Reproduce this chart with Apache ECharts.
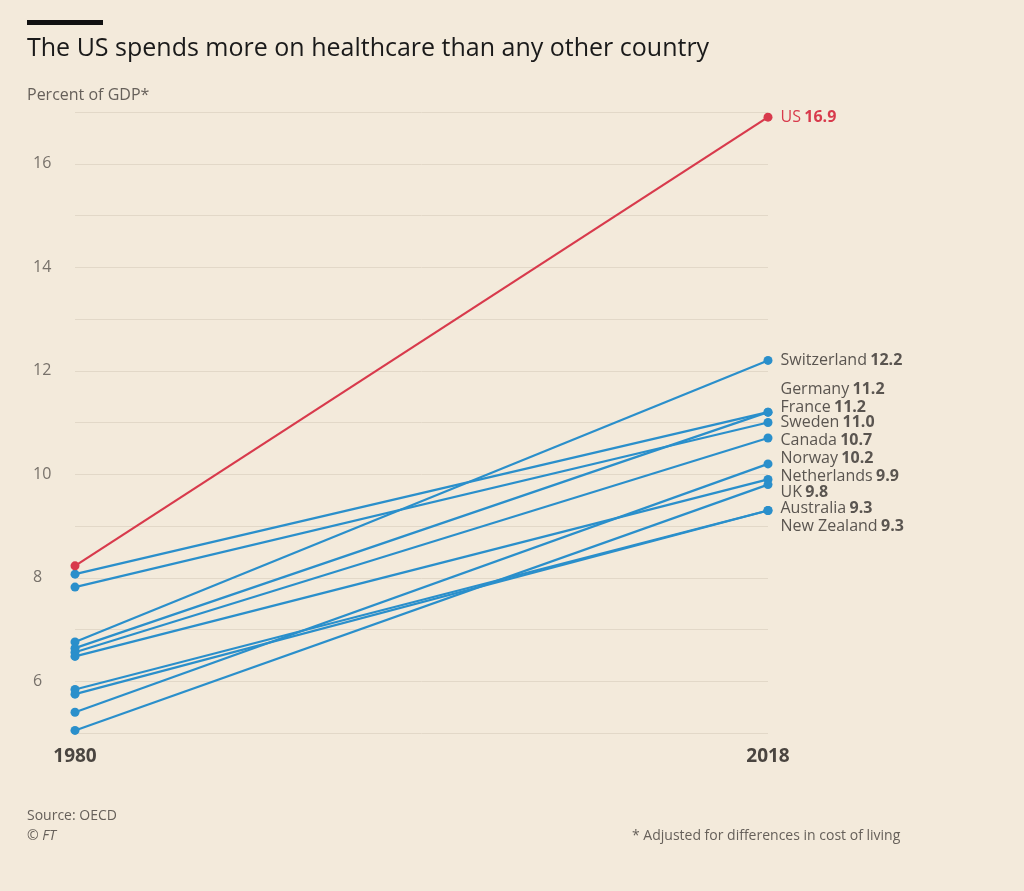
<!DOCTYPE html>
<html><head><meta charset="utf-8">
<script src="https://cdn.jsdelivr.net/npm/echarts@6/dist/echarts.min.js"></script>
<style>html,body{margin:0;padding:0;background:#f3eadb;}#c{width:1024px;height:891px;}</style>
</head><body><div id="c"></div>
<script>
const years = ['1980','2018'];
const countries = ['US','Switzerland','Germany','France','Sweden','Canada','Norway','Netherlands','UK','Australia','New Zealand'];
const v1980 = [8.23,6.76,8.07,6.64,7.82,6.56,5.40,6.48,5.05,5.84,5.75];
const v2018 = [16.9,12.2,11.2,11.2,11.0,10.7,10.2,9.9,9.8,9.3,9.3];
const yTicks = [6,8,10,12,14,16];
// label vertical nudges (px) so the end labels stack without overlap
const labelDy = [0,0,-23,-5,0,2,-5,-3,8,-2,16];

const blue = '#2a8fcb', red = '#d83a4c';
const series = countries.map((c,i)=>({
  type:'line', name:c, data:[v1980[i], v2018[i]],
  symbol:'circle', symbolSize:9, z: c==='US'?5:3,
  lineStyle:{width:2.2,color:c==='US'?red:blue},
  itemStyle:{color:c==='US'?red:blue},
  label:{show:true, formatter:p=>p.dataIndex===1?('{n|'+c+'} {b|'+v2018[i].toFixed(1)+'}'):'',
    position:'right', distance:8, offset:[0,labelDy[i]],
    rich:{n:{fontSize:16,color:c==='US'?red:'#5a5550',fontFamily:'Open Sans'},
          b:{fontSize:16,fontWeight:'bold',color:c==='US'?red:'#5a5550',fontFamily:'Open Sans'}}},
  emphasis:{disabled:true}, animation:false
}));

const chart = echarts.init(document.getElementById('c'));
chart.setOption({
  backgroundColor:'#f3eadb',
  animation:false,
  graphic:[
    {type:'rect',shape:{x:27,y:20,width:76,height:5},style:{fill:'#111'}},
    {type:'text',left:27,top:36,style:{text:'The US spends more on healthcare than any other country',fontSize:25,fill:'#1a1a1a',fontFamily:'Open Sans'}},
    {type:'text',left:27,top:87,style:{text:'Percent of GDP*',fontSize:16,fill:'#66605a',fontFamily:'Open Sans'}},
    {type:'text',left:27,top:809,style:{text:'Source: OECD',fontSize:14,fill:'#66605a',fontFamily:'Open Sans'}},
    {type:'text',left:27,top:829,style:{text:'© FT',fontSize:14,fill:'#66605a',fontStyle:'italic',fontFamily:'Open Sans'}},
    {type:'text',left:632,top:829,style:{text:'* Adjusted for differences in cost of living',fontSize:14,fill:'#66605a',fontFamily:'Open Sans'}}
  ],
  grid:{left:75,right:256,top:112,bottom:158},
  xAxis:{type:'category',data:years,boundaryGap:false,
    axisLine:{show:false},axisTick:{show:false},splitLine:{show:false},
    axisLabel:{margin:14,fontSize:19,fontWeight:'bold',color:'#4a4540',fontFamily:'Open Sans'}},
  yAxis:{type:'value',min:5,max:17,interval:1,
    axisLine:{show:false},axisTick:{show:false},
    axisLabel:{formatter:v=>yTicks.includes(v)?String(v):'',margin:42,align:'left',fontSize:16,color:'#77716a',fontFamily:'Open Sans'},
    splitLine:{lineStyle:{color:'#e2d8c8',width:1},interval:(i,v)=>yTicks.includes(+v)}},
  series
});
</script></body></html>
